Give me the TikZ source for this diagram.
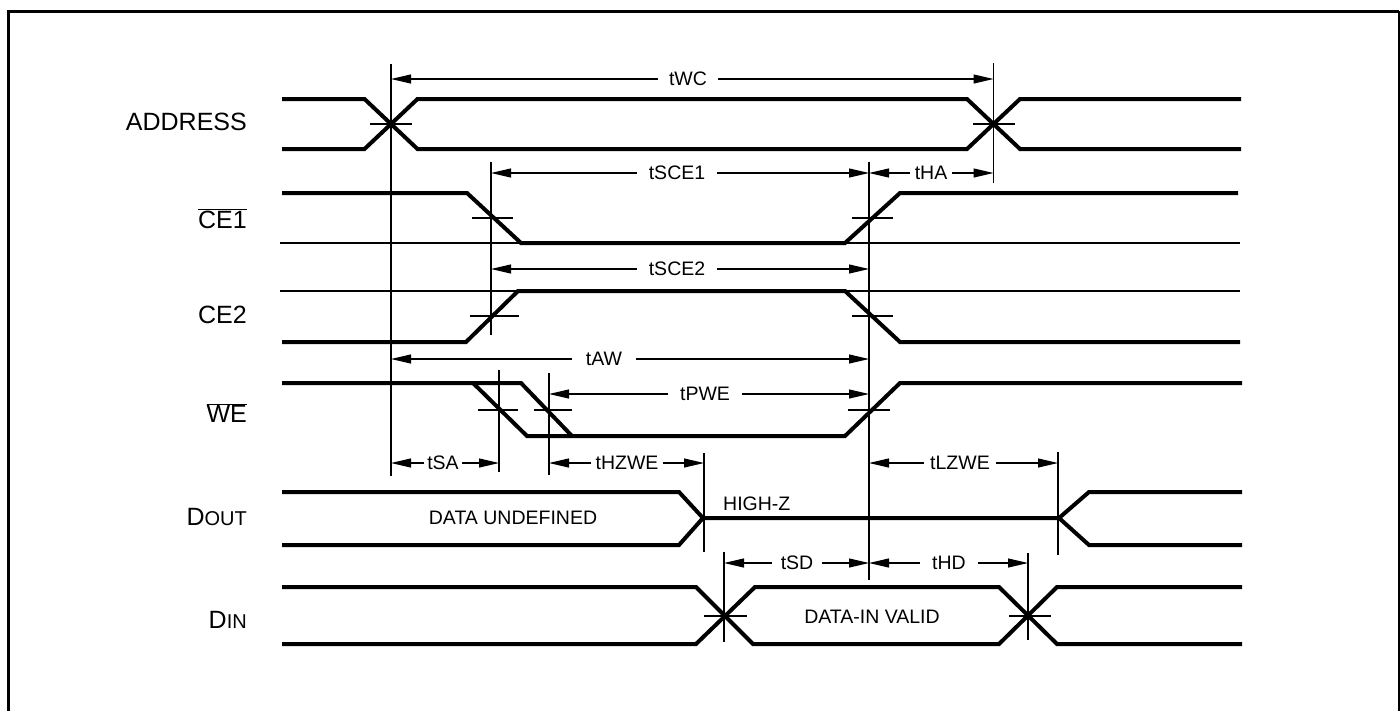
\documentclass[tikz,border=0pt]{standalone}
\usepackage{fontspec}
\setmainfont{Liberation Sans}
\usetikzlibrary{arrows.meta}
\tikzset{
  sig/.style={line width=4pt, line join=miter},
  ref/.style={line width=1.1pt},
  tick/.style={line width=1.1pt},
  vline/.style={line width=1.1pt},
  dim/.style={line width=1.1pt, -{Triangle[length=20pt,width=9pt]}},
  tlab/.style={font=\fontsize{19.5}{22}\selectfont, inner ysep=0pt},
  slab/.style={font=\fontsize{25}{28}\selectfont, inner sep=0pt, anchor=base east},
  txt/.style={font=\fontsize{19.5}{22}\selectfont, inner sep=0pt}
}
\begin{document}
\begin{tikzpicture}[x=1pt,y=-1pt]
\useasboundingbox (0,0) rectangle (1400,710);
% frame
\draw[line width=2.7pt] (8.7,711) -- (8.7,11.3) -- (1399,11.3);
\draw[line width=1.7pt] (1399,11.3) -- (1399,711);

% signal names
\node[slab] (nAddr) at (247,130.5) {ADDRESS};
\node[slab] (nCE1) at (247,228) {$\overline{\hbox{CE1}}$};
\node[slab] (nCE2) at (247,323) {CE2};
\node[slab] (nWE) at (247,422.5) {$\overline{\hbox{WE}}$};
\node[slab] (nDout) at (247,525) {D{\fontsize{20}{22}\selectfont OUT}};
\node[slab] (nDin) at (247,628) {D{\fontsize{20}{22}\selectfont IN}};

% ADDRESS
\draw[sig] (282,99) -- (364.5,99) -- (417.5,149) -- (967,149) -- (1020,99) -- (1241,99);
\draw[sig] (282,149) -- (364.5,149) -- (417.5,99) -- (967,99) -- (1020,149) -- (1241,149);
% CE1
\draw[ref] (280,243) -- (1240,243);
\draw[sig] (282,193) -- (467,193) -- (521,243) -- (845,243) -- (900,193) -- (1238,193);
% CE2
\draw[ref] (280,291) -- (1240,291);
\draw[sig] (282,342) -- (466,342) -- (518,291) -- (845,291) -- (900,342) -- (1240,342);
% WE
\draw[sig] (282,383) -- (521,383) -- (572,436);
\draw[sig] (473,383) -- (527,436) -- (845,436) -- (900,383) -- (1242,383);
% DOUT
\draw[sig] (282,492) -- (679,492) -- (703,518) -- (1059,518) -- (1089,492) -- (1242,492);
\draw[sig] (282,545) -- (679,545) -- (703,518);
\draw[sig] (1059,518) -- (1089,545) -- (1242,545);
% DIN
\draw[sig] (282,587) -- (696,587) -- (753,644) -- (999,644) -- (1057,587) -- (1242,587);
\draw[sig] (282,644) -- (696,644) -- (755,587) -- (999,587) -- (1057,644) -- (1242,644);

% texts in waveforms
\node[txt] (tUndef) at (513,518) {DATA UNDEFINED};
\node[txt, anchor=west] (tHiZ) at (723,503.5) {HIGH-Z};
\node[txt] (tValid) at (872,617) {DATA-IN VALID};

% crossing ticks
\draw[tick] (370,124) -- (412,124);
\draw[tick] (973,124) -- (1015,124);
\draw[tick] (472,218) -- (513,218);
\draw[tick] (852,218) -- (893,218);
\draw[tick] (470,316) -- (519,316);
\draw[tick] (852,316) -- (893,316);
\draw[tick] (478,410) -- (518,410);
\draw[tick] (534,410) -- (572,410);
\draw[tick] (848,410) -- (890,410);
\draw[tick] (704,616) -- (747,616);
\draw[tick] (1009,616) -- (1051,616);

% reference lines
\coordinate (a1t) at (391,64);   \coordinate (a1b) at (391,476);
\coordinate (c1t) at (491,162);  \coordinate (c1b) at (491,335);
\coordinate (a2t) at (993.5,63); \coordinate (a2b) at (993.5,183);
\coordinate (mt) at (869,162);   \coordinate (mb) at (869,580);
\coordinate (w1t) at (499,370);  \coordinate (w1b) at (499,472);
\coordinate (w2t) at (549,373);  \coordinate (w2b) at (549,475);
\coordinate (hzt) at (704,453);  \coordinate (hzb) at (704,552);
\coordinate (lzt) at (1058,452); \coordinate (lzb) at (1058,555);
\coordinate (d1t) at (724,552);  \coordinate (d1b) at (724,642);
\coordinate (d2t) at (1028,553); \coordinate (d2b) at (1028,640);
\foreach \p in {a1,c1,a2,m,w1,w2,hz,lz,d1,d2} \draw[vline] (\p t) -- (\p b);

% dimensions
\node[tlab, inner xsep=11pt] (dWC) at (688,79) {tWC};
\draw[dim] (dWC.west) -- (a1t |- dWC.west);
\draw[dim] (dWC.east) -- (a2t |- dWC.east);

\node[tlab, inner xsep=12pt] (dSCE1) at (677,173) {tSCE1};
\draw[dim] (dSCE1.west) -- (c1t |- dSCE1.west);
\draw[dim] (dSCE1.east) -- (mt |- dSCE1.east);

\node[tlab, inner xsep=5pt] (dHA) at (931,173) {tHA};
\draw[dim] (dHA.west) -- (mt |- dHA.west);
\draw[dim] (dHA.east) -- (a2t |- dHA.east);

\node[tlab, inner xsep=12pt] (dSCE2) at (677,269) {tSCE2};
\draw[dim] (dSCE2.west) -- (c1t |- dSCE2.west);
\draw[dim] (dSCE2.east) -- (mt |- dSCE2.east);

\node[tlab, inner xsep=14pt] (dAW) at (604,359) {tAW};
\draw[dim] (dAW.west) -- (a1t |- dAW.west);
\draw[dim] (dAW.east) -- (mt |- dAW.east);

\node[tlab, inner xsep=12pt] (dPWE) at (705,394) {tPWE};
\draw[dim] (dPWE.west) -- (w2t |- dPWE.west);
\draw[dim] (dPWE.east) -- (mt |- dPWE.east);

\node[tlab, inner xsep=3pt] (dSA) at (443,463) {tSA};
\draw[dim] (dSA.west) -- (a1t |- dSA.west);
\draw[dim] (dSA.east) -- (w1t |- dSA.east);

\node[tlab, inner xsep=4pt] (dHZ) at (627,463) {tHZWE};
\draw[dim] (dHZ.west) -- (w2t |- dHZ.west);
\draw[dim] (dHZ.east) -- (hzt |- dHZ.east);

\node[tlab, inner xsep=6pt] (dLZ) at (960,463) {tLZWE};
\draw[dim] (dLZ.west) -- (mt |- dLZ.west);
\draw[dim] (dLZ.east) -- (lzt |- dLZ.east);

\node[tlab, inner xsep=8.5pt] (dSD) at (797,563) {tSD};
\draw[dim] (dSD.west) -- (d1t |- dSD.west);
\draw[dim] (dSD.east) -- (mt |- dSD.east);

\node[tlab, inner xsep=12pt] (dHD) at (949,563) {tHD};
\draw[dim] (dHD.west) -- (mt |- dHD.west);
\draw[dim] (dHD.east) -- (d2t |- dHD.east);
\end{tikzpicture}
\end{document}
